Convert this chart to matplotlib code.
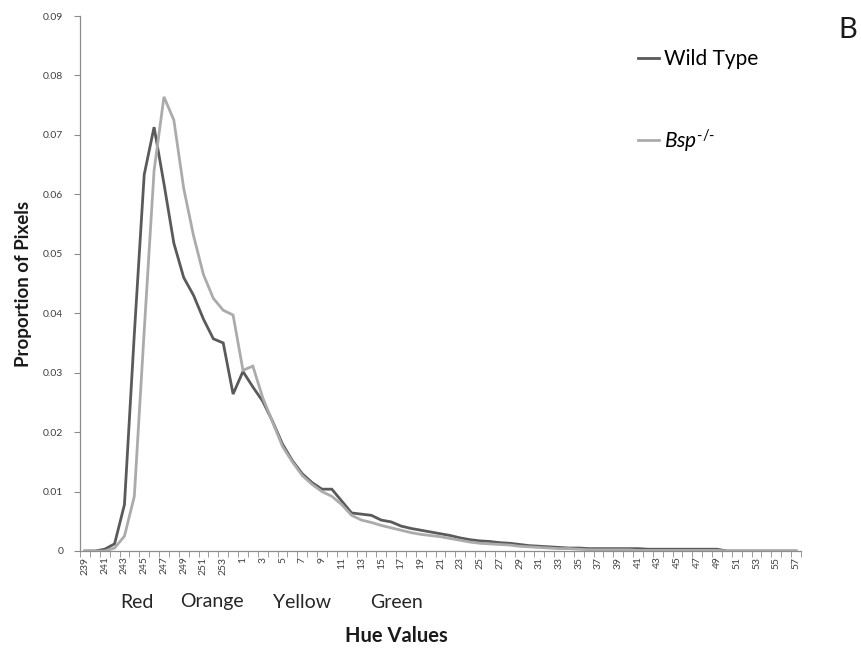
import matplotlib
matplotlib.use("Agg")
import matplotlib.pyplot as plt
import numpy as np

plt.rcParams['font.family'] = ['Lato', 'DejaVu Sans']
plt.rcParams['mathtext.fontset'] = 'custom'
plt.rcParams['mathtext.rm'] = 'Lato'
plt.rcParams['mathtext.it'] = 'Lato:italic'

# hue categories (wrap round from 254 to 1)
hues = list(range(239, 255)) + list(range(1, 58))

wild_type = [
    0, 0, 0.0003, 0.0012, 0.0078, 0.0365, 0.0633, 0.0713, 0.0618, 0.0518,
    0.0460, 0.0430, 0.0390, 0.0357, 0.0350, 0.0264, 0.0302, 0.0276, 0.0252, 0.0218,
    0.0180, 0.0152, 0.0130, 0.0115, 0.0104, 0.0104, 0.0084, 0.0064, 0.0062, 0.0060,
    0.0052, 0.0049, 0.0042, 0.0038, 0.0035, 0.0032, 0.0029, 0.0026, 0.0022, 0.0019,
    0.0017, 0.0016, 0.0014, 0.0013, 0.0011, 0.0009, 0.0008, 0.0007, 0.0006, 0.0005,
    0.0005, 0.0004, 0.0004, 0.0004, 0.0004, 0.0004, 0.0004, 0.0003, 0.0003, 0.0003,
    0.0003, 0.0003, 0.0003, 0.0003, 0.0003, 0, 0, 0, 0, 0,
    0, 0, 0,
]

bsp = [
    0, 0, 0, 0.0005, 0.0025, 0.0092, 0.0370, 0.0640, 0.0764, 0.0725,
    0.0610, 0.0530, 0.0465, 0.0425, 0.0405, 0.0397, 0.0304, 0.0311, 0.0258, 0.0217,
    0.0176, 0.0150, 0.0127, 0.0112, 0.0100, 0.0092, 0.0078, 0.0060, 0.0052, 0.0048,
    0.0043, 0.0039, 0.0035, 0.0031, 0.0028, 0.0026, 0.0024, 0.0021, 0.0018, 0.0015,
    0.0013, 0.0012, 0.0011, 0.0010, 0.0008, 0.0007, 0.0006, 0.0005, 0.0004, 0.0004,
    0.0003, 0.0002, 0.0002, 0.0002, 0.0002, 0.0002, 0.0001, 0.0001, 0.0001, 0.0001,
    0.0001, 0.0001, 0.0001, 0.0001, 0.0001, 0, 0, 0, 0, 0,
    0, 0, 0,
]

y_ticks = [0, 0.01, 0.02, 0.03, 0.04, 0.05, 0.06, 0.07, 0.08, 0.09]
y_tick_labels = ["0", "0.01", "0.02", "0.03", "0.04", "0.05", "0.06", "0.07", "0.08", "0.09"]
colour_names = ["Red", "Orange", "Yellow", "Green"]

fig = plt.figure(figsize=(8.62, 6.53), dpi=100)
ax = fig.add_axes([80 / 862, 1 - 551 / 653, 721 / 862, 535 / 653])

x = np.arange(len(hues))
ax.plot(x, wild_type, color="#5a5a5a", lw=2.0, label="Wild Type", solid_joinstyle="miter")
ax.plot(x, bsp, color="#ababab", lw=2.0, label=r"$Bsp^{\text{-/-}}$", solid_joinstyle="miter")

ax.set_xlim(-0.5, len(hues) - 0.5)
ax.set_ylim(0, 0.09)

for s in ["top", "right"]:
    ax.spines[s].set_visible(False)
for s in ["left", "bottom"]:
    ax.spines[s].set_color("#8c8c8c")
    ax.spines[s].set_linewidth(0.9)

ax.set_yticks(y_ticks)
ax.set_yticklabels(y_tick_labels)
ax.tick_params(axis="y", direction="out", length=4, color="#8c8c8c",
               labelsize=7.5, labelcolor="#404040", pad=8)

ax.set_xticks(x[::2])
ax.set_xticklabels([str(h) for h in hues[::2]], rotation=90)
ax.set_xticks(np.arange(-0.5, len(hues), 1), minor=True)
ax.tick_params(axis="x", which="major", length=0, labelsize=7.5,
               labelcolor="#404040", pad=4)
ax.tick_params(axis="x", which="minor", direction="out", length=4, color="#8c8c8c")

ax.set_ylabel("Proportion of Pixels", fontsize=13.5, fontweight="bold",
              color="#1a1a1a", labelpad=8)
fig.text(396 / 862, 1 - 636 / 653, "Hue Values", fontsize=14.5, fontweight="bold",
         color="#1a1a1a", ha="center", va="center")

name_x = [137, 212, 302, 397]
for nm, px in zip(colour_names, name_x):
    fig.text(px / 862, 1 - 602 / 653, nm, fontsize=14, color="#262626",
             ha="center", va="center")

fig.text(848 / 862, 1 - 30 / 653, "B", fontsize=21, color="#1a1a1a",
         ha="center", va="center")

fig.legend(loc="upper left", bbox_to_anchor=(628 / 862, 1 - 39 / 653),
           frameon=False, fontsize=15, handlelength=1.0, handletextpad=0.25,
           labelspacing=2.75, borderpad=0)

fig.savefig("out.png", dpi=100)
